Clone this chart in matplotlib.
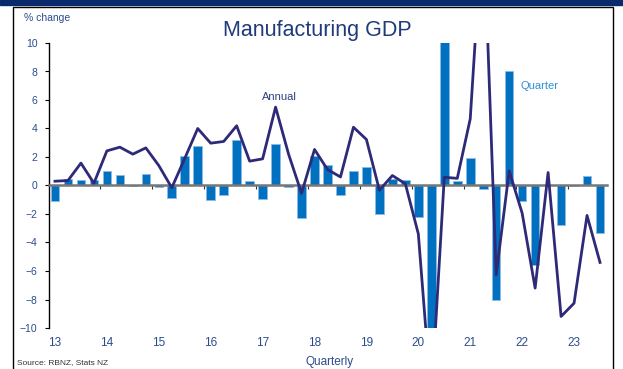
import numpy as np
import matplotlib
matplotlib.use("Agg")
import matplotlib.pyplot as plt
from matplotlib.patches import Rectangle
import matplotlib.transforms as mtransforms

plt.rcParams['font.family'] = ['Liberation Sans', 'DejaVu Sans']

# quarterly data, Mar-2013 .. Sep-2023
quarter = [-1.1, 0.45, 0.4, 0.4, 1.05, 0.75, -0.05, 0.8, -0.08, -0.85,
           2.1, 2.8, -1.05, -0.7, 3.2, 0.35, -0.95, 2.9, -0.1, -2.3,
           2.1, 1.45, -0.65, 1.05, 1.3, -2.0, 0.45, 0.4, -2.2, -13.0,
           15.0, 0.3, 1.9, -0.25, -8.0, 8.0, -1.1, -5.6, 0.05, -2.75,
           -0.05, 0.7, -3.3]
annual = [0.3, 0.35, 1.57, 0.16, 2.43, 2.69, 2.2, 2.64, 1.4, -0.16,
          1.9, 4.0, 2.97, 3.09, 4.19, 1.71, 1.87, 5.5, 2.2, -0.55,
          2.53, 1.12, 0.6, 4.09, 3.23, -0.33, 0.7, 0.12, -3.4, -15.0,
          0.58, 0.5, 4.68, 19.0, -6.27, 1.03, -1.94, -7.2, 0.91, -9.19,
          -8.26, -2.1, -5.4]
year_labels = ['13', '14', '15', '16', '17', '18', '19', '20', '21', '22', '23']

navy = '#1F3B7A'
tick_col = '#2B4C8C'
x = np.arange(len(quarter))

fig = plt.figure(figsize=(6.23, 3.69), dpi=100)
W, H = 623, 369
ax = fig.add_axes([48.5 / W, 1 - 328 / H, 558 / W, 285 / H])

ax.bar(x, quarter, width=0.66, color='#0070C0', edgecolor='#8DBBE5',
       linewidth=0.6, zorder=1)
ax.plot(x, annual, color='#2E2A78', lw=2, zorder=3)

ax.set_xlim(-0.5, len(quarter) - 0.5)
ax.set_ylim(-10, 10)
ax.set_yticks(np.arange(-10, 11, 2))

for s in ['top', 'right']:
    ax.spines[s].set_visible(False)
ax.spines['left'].set_color('black')
ax.spines['left'].set_linewidth(1)
ax.spines['bottom'].set_position(('data', 0))
ax.spines['bottom'].set_color('#777777')
ax.spines['bottom'].set_linewidth(1.8)

ax.set_xticks(np.arange(3.5, len(quarter) - 1, 4))
ax.set_xticklabels([])
ax.tick_params(axis='x', direction='out', length=3, width=0.8, color='#333333')
ax.tick_params(axis='y', direction='out', length=3, width=0.8, color='black',
               labelsize=7.5, labelcolor=tick_col, pad=5)

trans = mtransforms.blended_transform_factory(ax.transData, ax.transAxes)
for i, lab in enumerate(year_labels):
    ax.text(i * 4, -0.03, lab, transform=trans, ha='center', va='top',
            fontsize=8.5, color=tick_col)

ax.text(17.3, 6.2, 'Annual', ha='center', va='center', fontsize=8,
        color='#2F3F7F')
ax.text(37.3, 7.0, 'Quarter', ha='center', va='center', fontsize=8,
        color='#2D8FD5')

fig.text(317 / W, 1 - 36 / H, 'Manufacturing GDP', ha='center', va='baseline',
         fontsize=15.5, color=navy)
fig.text(24 / W, 1 - 18 / H, '% change', ha='left', va='center',
         fontsize=7.5, color=tick_col)
fig.text(330 / W, 1 - 356 / H, 'Quarterly', ha='center', va='top',
         fontsize=8.5, color=tick_col)
fig.text(17 / W, 1 - 359 / H, 'Source: RBNZ, Stats NZ', ha='left', va='top',
         fontsize=6, color='#333333')

# page frame
fig.patches.append(Rectangle((0, 1 - 5 / H), 1, 5 / H, transform=fig.transFigure,
                             color='#0A2A6E', zorder=0))
fig.patches.append(Rectangle((12.5 / W, -0.05), 600 / W, 1.05 - 7 / H,
                             transform=fig.transFigure, fill=False,
                             edgecolor='black', lw=1, zorder=0))

fig.savefig('out.png', dpi=100)
